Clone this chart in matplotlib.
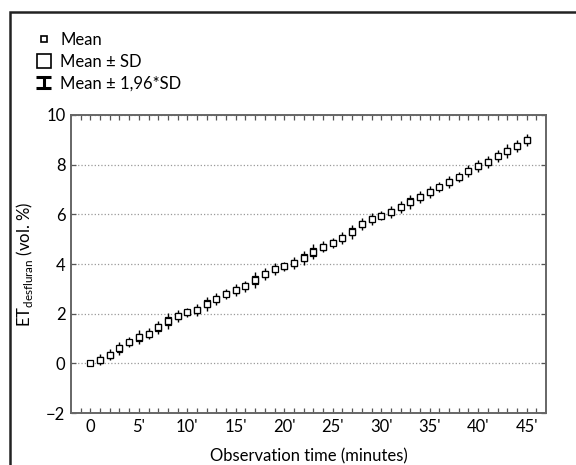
import matplotlib
matplotlib.use("Agg")
import matplotlib.pyplot as plt
from matplotlib.lines import Line2D
from matplotlib.patches import Rectangle
from matplotlib.legend_handler import HandlerBase
import numpy as np

plt.rcParams['font.family'] = ['Lato', 'DejaVu Sans']

minutes = list(range(46))
mean = [0.00, 0.15, 0.35, 0.60, 0.85, 1.05, 1.20, 1.45, 1.70, 1.90,
        2.05, 2.15, 2.40, 2.60, 2.80, 2.95, 3.10, 3.35, 3.60, 3.80,
        3.90, 4.05, 4.25, 4.50, 4.70, 4.85, 5.05, 5.30, 5.60, 5.80,
        5.95, 6.10, 6.30, 6.50, 6.70, 6.90, 7.10, 7.30, 7.50, 7.75,
        7.95, 8.10, 8.35, 8.55, 8.75, 9.00]
sd = [0.00, 0.12, 0.12, 0.14, 0.10, 0.14, 0.12, 0.14, 0.16, 0.12,
      0.10, 0.12, 0.14, 0.12, 0.10, 0.12, 0.12, 0.16, 0.12, 0.12,
      0.10, 0.12, 0.14, 0.16, 0.12, 0.10, 0.12, 0.14, 0.12, 0.12,
      0.10, 0.12, 0.12, 0.14, 0.12, 0.12, 0.10, 0.12, 0.10, 0.12,
      0.12, 0.12, 0.12, 0.14, 0.12, 0.12]
xtick_pos = [0, 5, 10, 15, 20, 25, 30, 35, 40, 45]
xtick_lbl = ["0", "5'", "10'", "15'", "20'", "25'", "30'", "35'", "40'", "45'"]
ytick_pos = [-2, 0, 2, 4, 6, 8, 10]

m = np.array(mean)
s = np.array(sd)


class IBeamHandler(HandlerBase):
    # draws the "I" symbol used for the mean +- 1.96 SD whiskers
    def create_artists(self, legend, orig_handle, xdescent, ydescent,
                       width, height, fontsize, trans):
        cx = width / 2 - xdescent
        top = height
        bot = 0
        hw = 5.5
        lines = [
            Line2D([cx, cx], [bot, top]),
            Line2D([cx - hw, cx + hw], [top, top]),
            Line2D([cx - hw, cx + hw], [bot, bot]),
        ]
        for ln in lines:
            ln.set_color('black')
            ln.set_linewidth(2.2)
            ln.set_solid_capstyle('butt')
            ln.set_transform(trans)
        return lines


fig = plt.figure(figsize=(5.76, 4.65), dpi=100)
ax = fig.add_axes([0.1233, 0.1118, 0.8246, 0.6409])

# whiskers (mean +- 1.96 SD)
ax.errorbar(minutes, m, yerr=1.96 * s, fmt='none', ecolor='black',
            elinewidth=1.0, capsize=0, zorder=2)
# boxes (mean +- SD)
ax.bar(minutes, 2 * s, bottom=m - s, width=0.6, facecolor='white',
       edgecolor='black', linewidth=0.9, zorder=3)
# mean
ax.plot(minutes, m, linestyle='none', marker='s', markersize=4,
        markerfacecolor='white', markeredgecolor='black',
        markeredgewidth=0.9, zorder=4)

ax.set_xlim(-2, 47)
ax.set_ylim(-2, 10)
ax.set_xticks(xtick_pos)
ax.set_xticklabels(xtick_lbl)
ax.set_xticks(range(-1, 47), minor=True)
ax.set_yticks(ytick_pos)
ax.tick_params(axis='both', which='both', direction='in', top=True,
               right=True, length=3.5, width=0.9, color='#555555',
               labelsize=12, pad=4)
ax.yaxis.grid(True, linestyle=':', color='#999999', linewidth=0.9)
for sp in ax.spines.values():
    sp.set_color('#666666')
    sp.set_linewidth(1.4)

ax.set_xlabel('Observation time (minutes)', fontsize=12, labelpad=10)
ax.set_ylabel(r'ET$_{\mathregular{desfluran}}$ (vol. %)', fontsize=12,
              labelpad=8)

# legend
h_mean = Line2D([], [], linestyle='none', marker='s', markersize=5,
                markerfacecolor='white', markeredgecolor='black',
                markeredgewidth=1.2)
h_sd = Line2D([], [], linestyle='none', marker='s', markersize=10,
              markerfacecolor='white', markeredgecolor='black',
              markeredgewidth=1.2)
h_ci = Line2D([], [])
fig.legend([h_mean, h_sd, h_ci],
           ['Mean', 'Mean \u00b1 SD', 'Mean \u00b1 1,96*SD'],
           handler_map={h_ci: IBeamHandler()},
           loc='upper left', bbox_to_anchor=(0.05, 0.945), frameon=False,
           fontsize=12, handlelength=1.0, handletextpad=0.5,
           labelspacing=0.33, borderaxespad=0)

# outer frame
fig.patches.append(Rectangle((10 / 576, -0.1), 1.2, 1.1 - 12 / 465 + 0.001,
                             transform=fig.transFigure, fill=False,
                             edgecolor='#222222', linewidth=1.8,
                             clip_on=False))

fig.savefig('out.png', dpi=100)
